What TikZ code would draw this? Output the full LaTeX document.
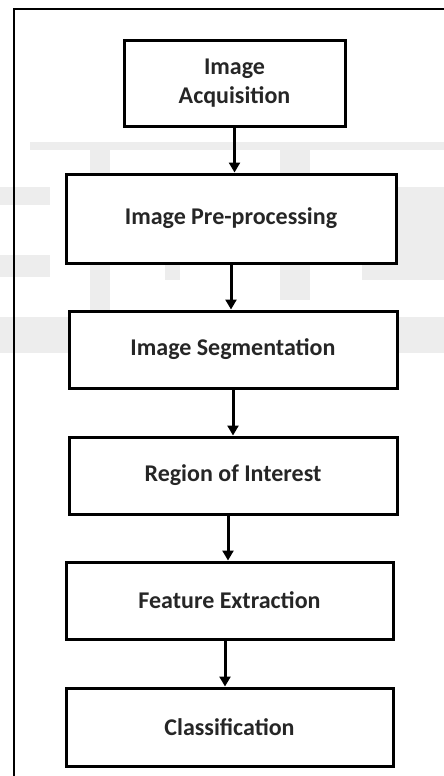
\documentclass[tikz,border=0pt]{standalone}
\usepackage{fontspec}
\setmainfont{Carlito}
\usetikzlibrary{arrows.meta}

\begin{document}
\begin{tikzpicture}[x=1pt,y=-1pt,
    stage/.style={rectangle, draw, line width=3pt, inner sep=0pt,
      align=center, font=\fontsize{24}{29}\selectfont\bfseries, text=black!85},
    flow/.style={line width=3pt, -{Triangle[length=10pt,width=11pt]}}]
      \useasboundingbox (0,0) rectangle (444,776);

      % faint watermark in the background
      \fill[black!7] (30,142) rectangle (444,150);
      \fill[black!7] (0,187) rectangle (50,205);
      \fill[black!7] (0,255) rectangle (50,277);
      \fill[black!7] (90,142) rectangle (110,330);
      \fill[black!7] (165,187) rectangle (180,280);
      \fill[black!7] (280,142) rectangle (310,300);
      \fill[black!7] (362,187) rectangle (444,280);
      \fill[black!7] (0,317) rectangle (444,353);

      \draw[line width=2.2pt]
      (14,776)--(14,9)--(444,9);

      \node at(234.5,83.5) [stage, minimum width=221, minimum height=85] (acq) {Image\\Acquisition};
      \node at(231,218.5) [stage, minimum width=330, minimum height=89, fill=white] (pre) {Image Pre-processing};
      \node at(233,349.5) [stage, minimum width=328, minimum height=77, fill=white] (seg) {Image Segmentation};
      \node at(233,475.5) [stage, minimum width=328, minimum height=77] (roi) {Region of Interest};
      \node at(229.5,600.5) [stage, minimum width=327, minimum height=77] (feat) {Feature Extraction};
      \node at(229.5,727) [stage, minimum width=327, minimum height=78] (cls) {Classification};

      \draw[flow] (acq) -- (acq |- pre.north);
      \draw[flow] (pre) -- (pre |- seg.north);
      \draw[flow] (seg) -- (seg |- roi.north);
      \draw[flow] ([xshift=-5pt]roi.south) -- ([xshift=-1.5pt]feat.north);
      \draw[flow] ([xshift=-4.5pt]feat.south) -- ([xshift=-4.5pt]cls.north);

    \end{tikzpicture}
\end{document}
